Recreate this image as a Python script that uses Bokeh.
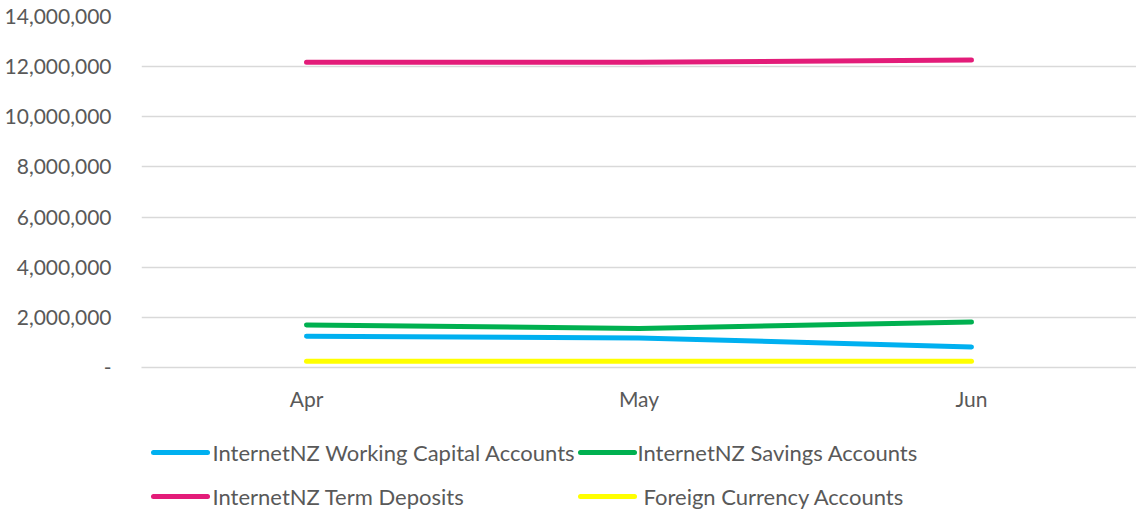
from bokeh.plotting import figure
from bokeh.models import Range1d, FactorRange, NumeralTickFormatter, FixedTicker, ColumnDataSource
from bokeh.layouts import column
from bokeh.core.properties import value
from bokeh.embed import file_html
from bokeh.resources import INLINE

months = ["Apr", "May", "Jun"]
working_capital = [1250000, 1180000, 820000]
savings = [1700000, 1560000, 1810000]
term_deposits = [12180000, 12180000, 12260000]
foreign_currency = [250000, 250000, 250000]

series_names = ["InternetNZ Working Capital Accounts", "InternetNZ Savings Accounts",
                "InternetNZ Term Deposits", "Foreign Currency Accounts"]
series_values = [working_capital, savings, term_deposits, foreign_currency]
series_colors = ["#00B0F0", "#00B050", "#E31C79", "#FFFF00"]
y_ticks = [0, 2000000, 4000000, 6000000, 8000000, 10000000, 12000000, 14000000]

FONT = "Lato"
TXT = "#595959"
W = 1136
LEFT = 141

p = figure(width=W, height=420, output_backend="svg", toolbar_location=None,
           x_range=FactorRange(*months, range_padding=-0.0025),
           y_range=Range1d(0, 14000000),
           min_border_left=LEFT, min_border_right=0, min_border_top=16, min_border_bottom=53)
p.outline_line_color = None
p.background_fill_color = "white"
p.border_fill_color = "white"

for name, vals, col in zip(series_names, series_values, series_colors):
    p.line(months, vals, line_color=col, line_width=5, line_cap="round", line_join="round")

p.yaxis.ticker = FixedTicker(ticks=y_ticks)
p.yaxis.formatter = NumeralTickFormatter(format="0,0")
p.yaxis.major_label_overrides = {0: "-"}
p.yaxis.axis_line_color = None
p.yaxis.major_tick_line_color = None
p.yaxis.minor_tick_line_color = None
p.yaxis.major_label_standoff = 24
p.yaxis.major_label_text_font = FONT
p.yaxis.major_label_text_font_size = "21px"
p.yaxis.major_label_text_color = TXT

p.xaxis.axis_line_color = "#D9D9D9"
p.xaxis.axis_line_width = 1.3
p.xaxis.major_tick_line_color = None
p.xaxis.minor_tick_line_color = None
p.xaxis.major_label_standoff = 12
p.xaxis.major_label_text_font = FONT
p.xaxis.major_label_text_font_size = "21px"
p.xaxis.major_label_text_color = TXT

p.xgrid.grid_line_color = None
p.ygrid.grid_line_color = "#D9D9D9"
p.ygrid.grid_line_width = 1.3

# legend drawn in its own strip below the chart (page pixel coordinates)
LH = 92
col_x = [153, 580, 153, 580]
row_y = [32, 32, 76, 76]
glyph_len = 54
text_gap = [5, 3, 5, 9]

lg = figure(width=W, height=LH, output_backend="svg", toolbar_location=None,
            x_range=Range1d(LEFT, W), y_range=Range1d(LH, 0),
            min_border_left=LEFT, min_border_right=0, min_border_top=0, min_border_bottom=0)
lg.outline_line_color = None
lg.axis.visible = False
lg.grid.visible = False
lg.background_fill_color = "white"
lg.border_fill_color = "white"

src = ColumnDataSource(dict(
    x0=col_x, x1=[x + glyph_len for x in col_x], y=row_y,
    tx=[x + glyph_len + g for x, g in zip(col_x, text_gap)],
    color=series_colors, label=series_names))
lg.segment("x0", "y", "x1", "y", source=src, line_color="color", line_width=5, line_cap="round")
lg.text("tx", "y", text="label", source=src, text_font=value(FONT), text_font_size="22px",
        text_color=TXT, text_baseline="middle", text_align="left")

layout = column(p, lg, spacing=0)
open("out.html", "w").write(file_html(layout, INLINE))
